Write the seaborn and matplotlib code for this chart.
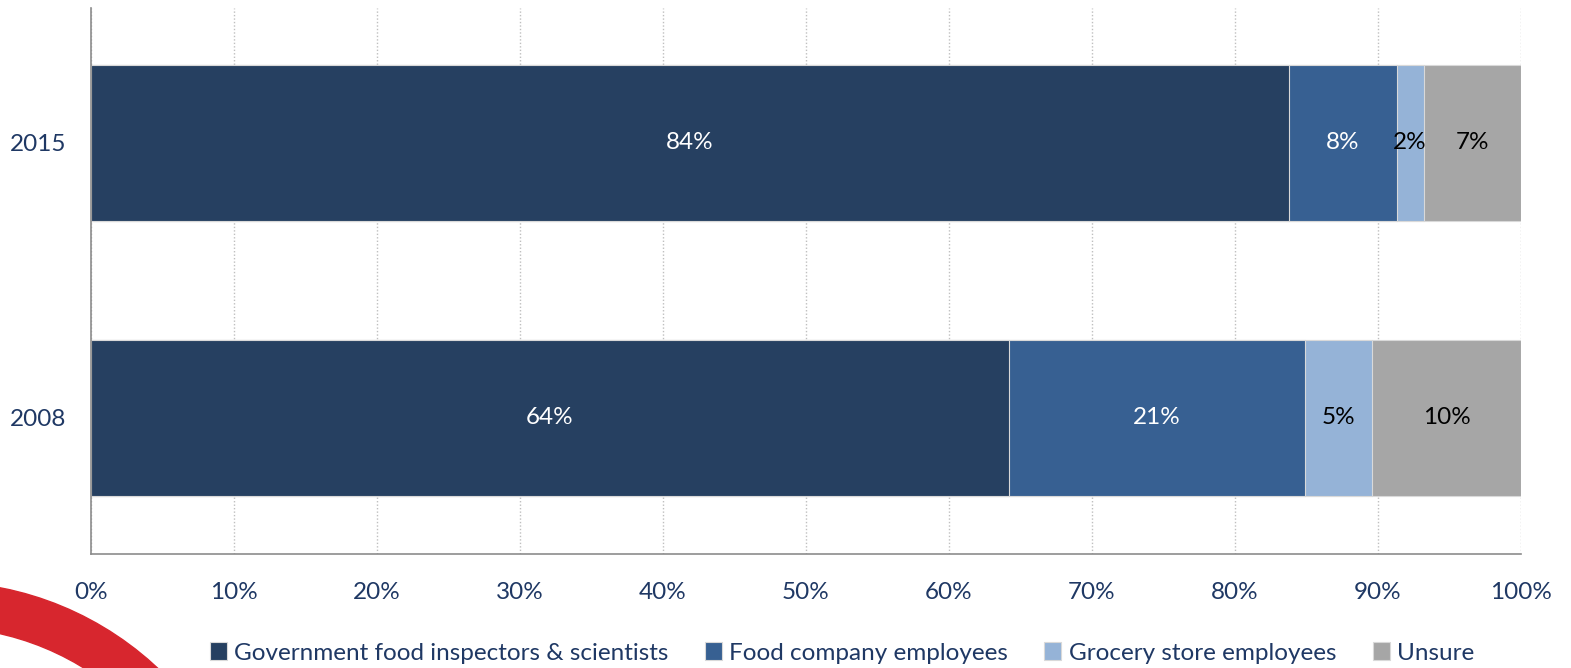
import numpy as np
import pandas as pd
import matplotlib
matplotlib.use('Agg')
import matplotlib.pyplot as plt
import seaborn as sns
from matplotlib.patches import Wedge

years = ['2015', '2008']
gov = [83.8, 64.2]
company = [7.5, 20.7]
grocery = [1.9, 4.7]
unsure = [6.8, 10.4]
series_names = ['Government food inspectors & scientists', 'Food company employees',
                'Grocery store employees', 'Unsure']
colors = ['#264061', '#376092', '#95B3D7', '#A6A6A6']
label_colors = ['white', 'white', 'black', 'black']
ticks = [0, 10, 20, 30, 40, 50, 60, 70, 80, 90, 100]

sns.set_theme(style='white')
plt.rcParams['font.family'] = ['Lato', 'DejaVu Sans']
text_color = '#1F3864'
fs = 17.5

df = pd.DataFrame({'year': years, 'gov': gov, 'company': company,
                   'grocery': grocery, 'unsure': unsure})
cols = ['gov', 'company', 'grocery', 'unsure']
cum = df[cols].cumsum(axis=1)

fig = plt.figure(figsize=(15.71, 6.68), dpi=100)
ax = fig.add_axes([91 / 1571, 114 / 668, (1521 - 91) / 1571, (554 - 8) / 668])

# draw from the back (full stack) to the front
for i in range(len(cols) - 1, -1, -1):
    sns.barplot(x=cum[cols[i]], y=df['year'], orient='h', color=colors[i],
                width=0.567, edgecolor='#D9D9D9', linewidth=0.8, ax=ax,
                saturation=1, label=series_names[i])

# value labels
for j in range(len(years)):
    left = 0
    for i, c in enumerate(cols):
        v = df[c][j]
        ax.text(left + v / 2, j, f'{round(v):.0f}%', ha='center', va='center',
                color=label_colors[i], fontsize=fs)
        left += v

ax.set_xlim(0, 100)
ax.set_ylim(1.495, -0.49)
ax.set_xticks(ticks)
ax.set_xticklabels([f'{t}%' for t in ticks], color=text_color, fontsize=fs)
ax.set_yticks(range(len(years)))
ax.set_yticklabels(years, color=text_color, fontsize=fs)
ax.tick_params(axis='x', pad=20, length=0)
ax.tick_params(axis='y', pad=18, length=0)
ax.set_xlabel('')
ax.set_ylabel('')
ax.xaxis.grid(True, linestyle=(0, (1, 1.5)), color='#BFBFBF', linewidth=1)
ax.set_axisbelow(True)
for s in ['top', 'right']:
    ax.spines[s].set_visible(False)
for s in ['left', 'bottom']:
    ax.spines[s].set_color('#8C8C8C')
    ax.spines[s].set_linewidth(1.2)

handles, labels = ax.get_legend_handles_labels()
order = [labels.index(n) for n in series_names]
fig.legend([handles[k] for k in order], [labels[k] for k in order],
           loc='center', bbox_to_anchor=(842 / 1571, 1 - 653 / 668), ncol=4,
           frameon=False, fontsize=fs, handlelength=0.7, handleheight=0.7,
           handletextpad=0.3, columnspacing=1.5, labelcolor=text_color)
if ax.get_legend():
    ax.get_legend().remove()

# decorative red arc in the lower-left corner
arc = Wedge((-0.6, -2.32), 3.18, 0, 90, width=0.45, transform=fig.dpi_scale_trans,
            color='#D7262E', zorder=0)
fig.patches.append(arc)

fig.savefig('out.png', dpi=100)
